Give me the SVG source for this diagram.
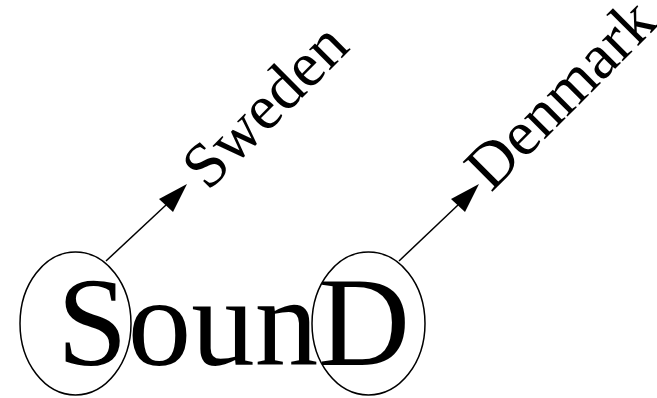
<svg xmlns="http://www.w3.org/2000/svg" width="657" height="398" viewBox="0 0 657 398">
<defs>
<style>
.t{font-family:"Liberation Serif","Times New Roman",serif;fill:#000}
.e{fill:none;stroke:#000;stroke-width:1.5}
.c{fill:none;stroke:#000;stroke-width:1.5}
.h{fill:#000}
</style>
</defs>
<rect width="657" height="398" fill="#fff"/>
<g id="word">
<text class="t" x="57" y="365" font-size="127">SounD</text>
</g>
<g id="node-S">
<ellipse class="e" cx="75.5" cy="323.5" rx="55.5" ry="71.5"/>
</g>
<g id="node-D">
<ellipse class="e" cx="368.5" cy="323.5" rx="56.5" ry="71.5"/>
</g>
<g id="label-Sweden">
<text class="t" font-size="64" transform="translate(208,192) rotate(-45)">Sweden</text>
</g>
<g id="label-Denmark">
<text class="t" font-size="64" transform="translate(491,193) rotate(-45)">Denmark</text>
</g>
<g id="connectors">
<line class="c" x1="106" y1="261" x2="166" y2="205"/>
<polygon class="h" points="187,184 159,199 173,212"/>
<line class="c" x1="399" y1="261" x2="458" y2="205"/>
<polygon class="h" points="479,184 451,199 465,212"/>
</g>
</svg>
